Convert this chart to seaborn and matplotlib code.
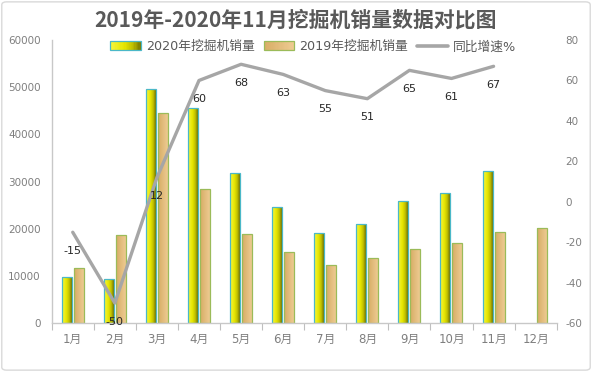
import numpy as np
import pandas as pd
import matplotlib
matplotlib.use("Agg")
import matplotlib.pyplot as plt
import seaborn as sns
from matplotlib.colors import LinearSegmentedColormap
from matplotlib.patches import Rectangle, FancyBboxPatch, Patch
from matplotlib.legend_handler import HandlerBase
from matplotlib.lines import Line2D
from matplotlib.ticker import FixedLocator

# ---------------- data ----------------
months = ["1月", "2月", "3月", "4月", "5月", "6月", "7月", "8月", "9月", "10月", "11月", "12月"]
sales_2020 = [9900, 9300, 49600, 45500, 31800, 24700, 19100, 21000, 26000, 27500, 32300, np.nan]
sales_2019 = [11800, 18800, 44500, 28500, 19000, 15200, 12300, 13800, 15800, 17100, 19300, 20200]
growth = [-15, -50, 12, 60, 68, 63, 55, 51, 65, 61, 67]
series_names = ["2020年挖掘机销量", "2019年挖掘机销量"]
line_name = "同比增速%"
title = "2019年-2020年11月挖掘机销量数据对比图"
left_ticks = [0, 10000, 20000, 30000, 40000, 50000, 60000]
right_ticks = [-60, -40, -20, 0, 20, 40, 60, 80]

# ---------------- style ----------------
sns.set_theme(style="white")
plt.rcParams['font.family'] = ['DejaVu Sans', 'Noto Sans CJK SC']

cmap20 = LinearSegmentedColormap.from_list(
    "c20", [(0, '#F6F640'), (0.45, '#E6E600'), (0.75, '#BDBD00'), (1, '#727200')])
cmap19 = LinearSegmentedColormap.from_list(
    "c19", [(0, '#D8AC64'), (0.5, '#E2BC7C'), (1, '#EECB92')])
edge20 = '#4BB8C8'
edge19 = '#9BBB59'
line_color = '#A6A6A6'
tick_color = '#7F7F7F'

fig = plt.figure(figsize=(5.92, 3.72), dpi=100)
ax = fig.add_axes([51.7 / 592, 1 - 323.3 / 372, 505 / 592, 283.3 / 372])

df = pd.DataFrame({
    "月份": months * 2,
    "销量": sales_2020 + sales_2019,
    "系列": [series_names[0]] * len(months) + [series_names[1]] * len(months),
})
sns.barplot(data=df, x="月份", y="销量", hue="系列", order=months, hue_order=series_names,
            palette=["#E0E000", "#E2BC7C"], width=0.57, gap=0.167, saturation=1,
            ax=ax, legend=False)

grad = np.linspace(0, 1, 64).reshape(1, -1)
for cont, cmap, ec in zip(ax.containers, [cmap20, cmap19], [edge20, edge19]):
    for p in cont.patches:
        h = p.get_height()
        if not np.isfinite(h) or h == 0:
            continue
        x0, w = p.get_x(), p.get_width()
        p.set_facecolor('none')
        p.set_edgecolor(ec)
        p.set_linewidth(0.9)
        im = ax.imshow(grad, cmap=cmap, extent=[x0, x0 + w, 0, h], aspect='auto',
                       zorder=p.get_zorder() - 0.05, interpolation='bilinear')
        im.set_clip_path(p)

ax.set_xlim(-0.5, len(months) - 0.5)
ax.set_ylim(0, 60000)
ax.set_yticks(left_ticks)
ax.set_yticklabels([str(t) for t in left_ticks])
ax.set_xticks(range(len(months)))
ax.set_xticklabels(months)
ax.xaxis.set_minor_locator(FixedLocator(np.arange(-0.5, len(months), 1)))
ax.tick_params(axis='x', which='major', length=0, pad=7, labelsize=8.5, labelcolor=tick_color)
ax.tick_params(axis='x', which='minor', bottom=True, length=5, width=0.8, color='#BFBFBF')
ax.tick_params(axis='y', length=0, pad=8, labelsize=7.5, labelcolor=tick_color)
ax.set_xlabel('')
ax.set_ylabel('')
for s in ['top', 'right']:
    ax.spines[s].set_visible(False)
for s in ['left', 'bottom']:
    ax.spines[s].set_color('#C8C8C8')
    ax.spines[s].set_linewidth(1)

# ---------------- line on secondary axis ----------------
ax2 = ax.twinx()
xpos = np.arange(len(growth))
sns.lineplot(x=xpos, y=growth, ax=ax2, color=line_color, linewidth=2.4, legend=False)
ax2.set_ylim(-60, 80)
ax2.set_yticks(right_ticks)
ax2.set_yticklabels([str(t) for t in right_ticks])
ax2.tick_params(axis='y', length=0, pad=6.5, labelsize=7.5, labelcolor=tick_color)
ax2.set_ylabel('')
for s in ax2.spines.values():
    s.set_visible(False)
ax2.grid(False)
for i, v in zip(xpos, growth):
    ax2.annotate(str(v), (i, v), xytext=(0, -13.5), textcoords='offset points',
                 ha='center', va='center', fontsize=8, color='#262626')

# ---------------- title ----------------
fig.text(0.5, 0.946, title, ha='center', va='center', fontsize=15, fontweight='bold',
         color='#595959', family=['Noto Sans CJK SC', 'DejaVu Sans'])


# ---------------- legend ----------------
class GradientHandler(HandlerBase):
    def __init__(self, cmap, edge):
        super().__init__()
        self.cmap = cmap
        self.edge = edge

    def create_artists(self, legend, orig_handle, xdescent, ydescent, width, height,
                       fontsize, trans):
        n = 24
        arts = []
        for k in range(n):
            r = Rectangle((-xdescent + width * k / n, -ydescent), width / n + 0.3, height,
                          facecolor=self.cmap((k + 0.5) / n), edgecolor='none', transform=trans)
            arts.append(r)
        arts.append(Rectangle((-xdescent, -ydescent), width, height, facecolor='none',
                              edgecolor=self.edge, linewidth=0.9, transform=trans))
        return arts


h20 = Patch(label=series_names[0])
h19 = Patch(label=series_names[1])
hl = Line2D([], [], color=line_color, linewidth=2.6, label=line_name)
fig.legend([h20, h19, hl], [series_names[0], series_names[1], line_name],
           loc='center', bbox_to_anchor=(0.529, 0.874), ncol=3, frameon=False,
           fontsize=9.2, handlelength=2.4, handleheight=0.7, handletextpad=0.4,
           columnspacing=0.7, labelcolor='#595959',
           handler_map={h20: GradientHandler(cmap20, edge20),
                        h19: GradientHandler(cmap19, edge19)})

# ---------------- figure border ----------------
fig.patches.append(FancyBboxPatch((0.003, 0.005), 0.994, 0.99,
                                  boxstyle='round,pad=0,rounding_size=0.008',
                                  transform=fig.transFigure, facecolor='none',
                                  edgecolor='#D9D9D9', linewidth=1))

fig.savefig('out.png', dpi=100)
